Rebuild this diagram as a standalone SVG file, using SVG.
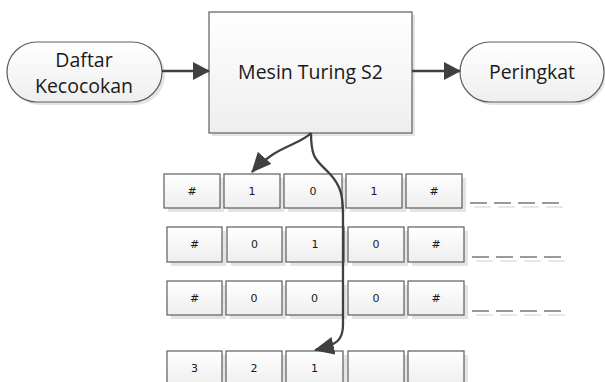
<svg xmlns="http://www.w3.org/2000/svg" width="605" height="382" viewBox="0 0 605 382">
  <defs>
    <linearGradient id="fillGrad" x1="0" y1="0" x2="0" y2="1">
      <stop offset="0" stop-color="#ffffff"/>
      <stop offset="1" stop-color="#eeeeee"/>
    </linearGradient>
    <marker id="arrowBig" viewBox="0 0 17 18" refX="16" refY="9" markerWidth="17" markerHeight="18" markerUnits="userSpaceOnUse" orient="auto">
      <path d="M0,0 L17,9 L0,18 Z" fill="#404040"/>
    </marker>
    <marker id="arrowCurve" viewBox="0 0 20 18" refX="19" refY="9" markerWidth="20" markerHeight="18" markerUnits="userSpaceOnUse" orient="auto">
      <path d="M0,0 L20,9 L0,18 Z" fill="#404040"/>
    </marker>
  </defs>
  <style>
    .box { fill: url(#fillGrad); stroke: #5e5e5e; stroke-width: 1.2; }
    .shadow { fill: #e4e4e4; }
    .label { font-family: "Open Sans", "Liberation Sans", sans-serif; font-size: 19.5px; fill: #1a1a1a; text-anchor: middle; }
    .cell { font-family: "DejaVu Sans", "Liberation Sans", sans-serif; font-size: 11px; fill: #1a1a1a; text-anchor: middle; }
    .edge { fill: none; stroke: #404040; stroke-width: 2.3; }
    .dash { stroke: #7a7a7a; stroke-width: 1.6; stroke-dasharray: 17 7; }
    .dashShadow { stroke: #e0e0e0; stroke-width: 1.6; stroke-dasharray: 17 7; }
  </style>

  <!-- input terminal -->
  <g id="daftar-kecocokan">
    <rect class="shadow" x="10" y="45" width="155" height="60" rx="30"/>
    <rect class="box" x="7" y="42" width="155" height="60" rx="30"/>
    <text class="label" x="84" y="67">Daftar</text>
    <text class="label" x="84" y="93">Kecocokan</text>
  </g>

  <!-- machine -->
  <g id="mesin-turing">
    <rect class="shadow" x="212" y="15" width="203" height="121"/>
    <rect class="box" x="209" y="12" width="203" height="121"/>
    <text class="label" x="310.5" y="79">Mesin Turing S2</text>
  </g>

  <!-- output terminal -->
  <g id="peringkat">
    <rect class="shadow" x="463" y="45" width="143" height="60" rx="30"/>
    <rect class="box" x="460" y="42" width="144" height="60" rx="30"/>
    <text class="label" x="532" y="79">Peringkat</text>
  </g>

  <!-- tape 1 -->
  <g id="tape-1">
    <rect class="shadow" x="168" y="178" width="56" height="34"/>
    <rect class="shadow" x="228" y="178" width="56" height="34"/>
    <rect class="shadow" x="288" y="178" width="58" height="34"/>
    <rect class="shadow" x="350" y="178" width="56" height="34"/>
    <rect class="shadow" x="410" y="178" width="56" height="34"/>
    <rect class="box" x="164" y="174" width="56" height="34"/>
    <rect class="box" x="224" y="174" width="56" height="34"/>
    <rect class="box" x="284" y="174" width="58" height="34"/>
    <rect class="box" x="346" y="174" width="56" height="34"/>
    <rect class="box" x="406" y="174" width="56" height="34"/>
    <text class="cell" x="192" y="195">#</text>
    <text class="cell" x="252" y="195">1</text>
    <text class="cell" x="313" y="195">0</text>
    <text class="cell" x="374" y="195">1</text>
    <text class="cell" x="434" y="195">#</text>
    <line class="dashShadow" x1="474" y1="207" x2="564" y2="207"/>
    <line class="dash" x1="470" y1="203" x2="560" y2="203"/>
  </g>

  <!-- tape 2 -->
  <g id="tape-2">
    <rect class="shadow" x="171" y="231" width="55" height="35"/>
    <rect class="shadow" x="231" y="231" width="55" height="35"/>
    <rect class="shadow" x="290" y="231" width="58" height="35"/>
    <rect class="shadow" x="352" y="231" width="56" height="35"/>
    <rect class="shadow" x="412" y="231" width="56" height="35"/>
    <rect class="box" x="167" y="227" width="55" height="35"/>
    <rect class="box" x="227" y="227" width="55" height="35"/>
    <rect class="box" x="286" y="227" width="58" height="35"/>
    <rect class="box" x="348" y="227" width="56" height="35"/>
    <rect class="box" x="408" y="227" width="56" height="35"/>
    <text class="cell" x="194.5" y="248">#</text>
    <text class="cell" x="254.5" y="248">0</text>
    <text class="cell" x="315" y="248">1</text>
    <text class="cell" x="376" y="248">0</text>
    <text class="cell" x="436" y="248">#</text>
    <line class="dashShadow" x1="476" y1="261" x2="566" y2="261"/>
    <line class="dash" x1="472" y1="257" x2="562" y2="257"/>
  </g>

  <!-- tape 3 -->
  <g id="tape-3">
    <rect class="shadow" x="171" y="285" width="55" height="34"/>
    <rect class="shadow" x="230" y="285" width="56" height="34"/>
    <rect class="shadow" x="290" y="285" width="57" height="34"/>
    <rect class="shadow" x="352" y="285" width="56" height="34"/>
    <rect class="shadow" x="412" y="285" width="56" height="34"/>
    <rect class="box" x="167" y="281" width="55" height="34"/>
    <rect class="box" x="226" y="281" width="56" height="34"/>
    <rect class="box" x="286" y="281" width="57" height="34"/>
    <rect class="box" x="348" y="281" width="56" height="34"/>
    <rect class="box" x="408" y="281" width="56" height="34"/>
    <text class="cell" x="194.5" y="302">#</text>
    <text class="cell" x="254" y="302">0</text>
    <text class="cell" x="314.5" y="302">0</text>
    <text class="cell" x="376" y="302">0</text>
    <text class="cell" x="436" y="302">#</text>
    <line class="dashShadow" x1="476" y1="315" x2="566" y2="315"/>
    <line class="dash" x1="472" y1="311" x2="562" y2="311"/>
  </g>

  <!-- ranking tape -->
  <g id="tape-rank">
    <rect class="shadow" x="171" y="355" width="55" height="34"/>
    <rect class="shadow" x="230" y="355" width="56" height="34"/>
    <rect class="shadow" x="290" y="355" width="57" height="34"/>
    <rect class="shadow" x="352" y="355" width="56" height="34"/>
    <rect class="shadow" x="412" y="355" width="56" height="34"/>
    <rect class="box" x="167" y="351" width="55" height="34"/>
    <rect class="box" x="226" y="351" width="56" height="34"/>
    <rect class="box" x="286" y="351" width="57" height="34"/>
    <rect class="box" x="348" y="351" width="56" height="34"/>
    <rect class="box" x="408" y="351" width="56" height="34"/>
    <text class="cell" x="194.5" y="372">3</text>
    <text class="cell" x="254" y="372">2</text>
    <text class="cell" x="314.5" y="372">1</text>
  </g>

  <!-- connectors -->
  <g id="connectors">
    <line class="edge" x1="162" y1="71" x2="209" y2="71" marker-end="url(#arrowBig)"/>
    <line class="edge" x1="412" y1="71" x2="460" y2="71" marker-end="url(#arrowBig)"/>
    <path class="edge" d="M311,133 C300,145 275,146 252,172" marker-end="url(#arrowCurve)"/>
    <path class="edge" d="M311,133 C311,160 317,160 330,174 C341,186 343,196 343,215 L343,325 C343,340 337,345 315,350" marker-end="url(#arrowCurve)"/>
  </g>
</svg>
